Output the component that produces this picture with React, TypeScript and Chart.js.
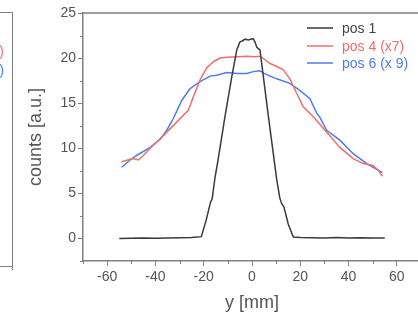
import React, { useEffect, useRef } from "react";
import { Chart, registerables } from "chart.js";

Chart.register(...registerables);

// ---- data ----
const pos1X = [-55, -50, -45, -40, -35, -30, -25, -21, -19, -17.2, -16.5, -15.3, -14, -11.2, -8.4, -6.3, -5, -4, -2.9, -1.5, -0.5, 0.5, 1.2, 2, 3.3, 6.8, 10.2, 11.5, 12.3, 13.2, 15, 17.1, 20, 25, 30, 35, 40, 45, 50, 55];
const pos1Y = [0.0, 0.02, 0.05, 0.03, 0.05, 0.08, 0.1, 0.2, 2.0, 4.0, 4.4, 6.8, 8.8, 13.5, 17.9, 20.9, 21.8, 21.9, 22.1, 22.0, 22.1, 22.15, 21.8, 21.2, 20.9, 13.5, 6.6, 4.5, 3.85, 3.5, 1.6, 0.15, 0.1, 0.08, 0.05, 0.1, 0.05, 0.08, 0.05, 0.05];

const pos4X = [-54, -51.5, -49.2, -47.1, -45, -42.2, -36.7, -31.2, -26.4, -24.3, -21.5, -18.8, -16, -13.3, -10.5, -6, -2.2, 1, 3.3, 5, 7.5, 10, 13, 15.7, 18.5, 21.2, 25.4, 30.9, 36.4, 41.9, 46.1, 50.2, 52.3, 54];
const pos4Y = [8.5, 8.7, 8.85, 8.7, 9.2, 10.0, 11.4, 12.9, 14.2, 15.7, 17.6, 18.9, 19.6, 20.0, 20.1, 20.15, 20.2, 20.15, 20.2, 19.9, 19.4, 19.1, 18.7, 17.7, 16.1, 14.6, 13.5, 11.8, 10.1, 8.85, 8.3, 8.1, 7.55, 6.9];

const pos6X = [-54, -50.5, -47.8, -42.2, -38, -35.3, -32.6, -29.1, -25.7, -21.5, -17.4, -14.6, -10.5, -6, -2.2, 0.5, 3.3, 5, 7.5, 10.2, 15.7, 19.9, 24, 26.8, 28.2, 30.9, 36.4, 41.9, 47.5, 54];
const pos6Y = [7.9, 8.7, 9.2, 10.1, 11.0, 12.0, 13.3, 15.3, 16.6, 17.4, 18.0, 18.1, 18.4, 18.3, 18.3, 18.5, 18.6, 18.3, 18.0, 17.7, 17.2, 16.4, 15.5, 13.9, 13.4, 12.0, 10.9, 9.4, 8.3, 7.3];

const seriesLabels = ["pos 1", "pos 4 (x7)", "pos 6 (x 9)"];
const seriesColors = ["#3a3a3a", "#ef6f6a", "#4c7bf3"];

const xMajorTicks = [-60, -40, -20, 0, 20, 40, 60];
const xMinorTicks = [-70, -50, -30, -10, 10, 30, 50, 70];
const yMajorTicks = [0, 5, 10, 15, 20, 25];
const yMinorTicks = [-2.5, 2.5, 7.5, 12.5, 17.5, 22.5];

const FONT = "'Liberation Sans', Arial, sans-serif";
const AXIS = "#808080";
const TEXT = "#555555";

const toPts = (xs: number[], ys: number[]) => xs.map((x, i) => ({ x, y: ys[i] }));

const framePlugin = {
  id: "frame",
  afterDraw(chart: any) {
    const { ctx, chartArea } = chart;
    const xs = chart.scales.x;
    const ys = chart.scales.y;
    ctx.save();
    ctx.strokeStyle = AXIS;
    ctx.lineWidth = 1.5;
    ctx.beginPath();
    ctx.moveTo(chartArea.left, chartArea.top);
    ctx.lineTo(chartArea.right, chartArea.top);
    ctx.lineTo(chartArea.right, chartArea.bottom);
    ctx.stroke();
    ctx.lineWidth = 1;
    ctx.beginPath();
    for (const v of xMinorTicks) {
      const px = Math.round(xs.getPixelForValue(v)) + 0.5;
      ctx.moveTo(px, chartArea.bottom);
      ctx.lineTo(px, chartArea.bottom + 3);
    }
    for (const v of yMinorTicks) {
      const py = Math.round(ys.getPixelForValue(v)) + 0.5;
      ctx.moveTo(chartArea.left, py);
      ctx.lineTo(chartArea.left - 3, py);
    }
    ctx.stroke();
    // legend
    ctx.font = `14px ${FONT}`;
    ctx.textBaseline = "middle";
    ctx.textAlign = "left";
    const rowsY = [28, 46, 63];
    seriesLabels.forEach((lab, i) => {
      ctx.strokeStyle = seriesColors[i];
      ctx.lineWidth = 1.5;
      ctx.beginPath();
      ctx.moveTo(307, rowsY[i]);
      ctx.lineTo(333, rowsY[i]);
      ctx.stroke();
      ctx.fillStyle = i === 0 ? "#444444" : seriesColors[i];
      ctx.fillText(lab, 342, rowsY[i] + 1);
    });
    ctx.restore();
  },
};

export default function App() {
  const ref = useRef<HTMLCanvasElement | null>(null);
  useEffect(() => {
    if (!ref.current) return;
    const chart = new Chart(ref.current, {
      type: "line",
      data: {
        datasets: [
          { label: seriesLabels[0], data: toPts(pos1X, pos1Y), borderColor: seriesColors[0], backgroundColor: seriesColors[0] },
          { label: seriesLabels[1], data: toPts(pos4X, pos4Y), borderColor: seriesColors[1], backgroundColor: seriesColors[1] },
          { label: seriesLabels[2], data: toPts(pos6X, pos6Y), borderColor: seriesColors[2], backgroundColor: seriesColors[2] },
        ],
      },
      options: {
        responsive: false,
        animation: false,
        layout: { padding: { left: 0, top: 13, right: 19, bottom: 0 } },
        elements: { point: { radius: 0 }, line: { borderWidth: 1.5, tension: 0 } },
        plugins: { legend: { display: false }, tooltip: { enabled: false } },
        scales: {
          x: {
            type: "linear",
            min: -70,
            max: 70,
            afterBuildTicks: (s: any) => {
              s.ticks = xMajorTicks.map((v) => ({ value: v }));
            },
            afterFit: (s: any) => {
              s.height = 60;
            },
            grid: { drawOnChartArea: false, tickLength: 5, color: AXIS, tickColor: AXIS, lineWidth: 1 },
            border: { color: AXIS, width: 1.5 },
            ticks: { font: { size: 14, family: FONT }, color: TEXT, padding: 3, maxRotation: 0, autoSkip: false },
            title: { display: true, text: "y [mm]", font: { size: 18, family: FONT }, color: TEXT, padding: { top: 0, bottom: 7 } },
          },
          y: {
            type: "linear",
            min: -2.5,
            max: 25,
            afterBuildTicks: (s: any) => {
              s.ticks = yMajorTicks.map((v) => ({ value: v }));
            },
            afterFit: (s: any) => {
              s.width = 83;
            },
            grid: { drawOnChartArea: false, tickLength: 5, color: AXIS, tickColor: AXIS, lineWidth: 1 },
            border: { color: AXIS, width: 1.5 },
            ticks: { font: { size: 14, family: FONT }, color: TEXT, padding: 2, autoSkip: false },
            title: { display: true, text: "counts [a.u.]", font: { size: 18, family: FONT }, color: TEXT, padding: { top: 25, bottom: 0 } },
          },
        },
      },
      plugins: [framePlugin],
    } as any);
    return () => chart.destroy();
  }, []);

  return (
    <div style={{ position: "fixed", left: 0, top: 0, width: 418, height: 321, overflow: "hidden", background: "#fff" }}>
      <div
        style={{
          position: "absolute",
          left: -99,
          top: 12,
          width: 112,
          height: 255,
          border: `1.5px solid ${AXIS}`,
          boxSizing: "border-box",
        }}
      />
      <div style={{ position: "absolute", left: 12, top: 266, width: 1, height: 4, background: AXIS }} />
      <span style={{ position: "absolute", right: 414, top: 43, font: `14px ${FONT}`, color: seriesColors[1], whiteSpace: "nowrap" }}>pos 4 (x7)</span>
      <span style={{ position: "absolute", right: 414, top: 62, font: `14px ${FONT}`, color: seriesColors[2], whiteSpace: "nowrap" }}>pos 6 (x 9)</span>
      <canvas ref={ref} width={440} height={321} style={{ position: "absolute", left: 0, top: 0, width: 440, height: 321 }} />
    </div>
  );
}
